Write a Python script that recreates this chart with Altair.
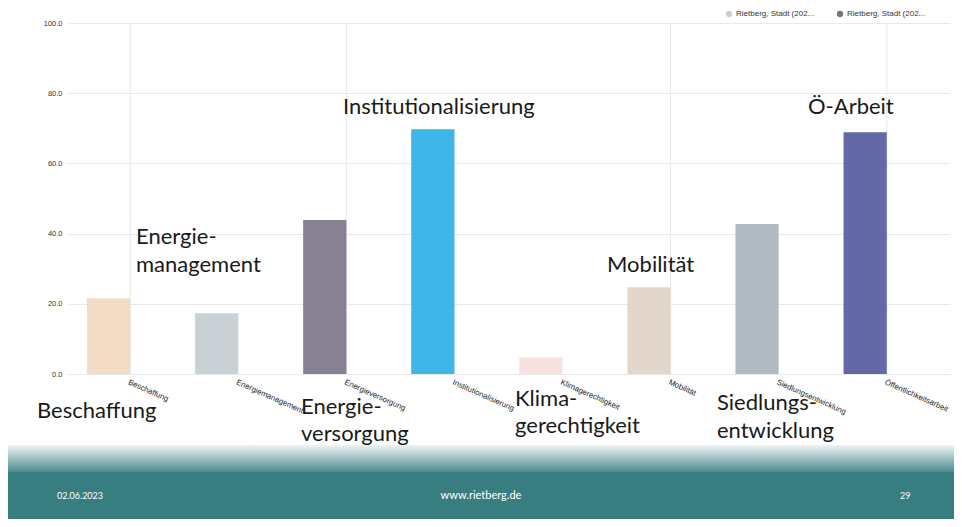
import altair as alt
import pandas as pd

# ---- data ----
categories = ["Beschaffung", "Energiemanagement", "Energieversorgung",
              "Institutionalisierung", "Klimagerechtigkeit", "Mobilität",
              "Siedlungsentwicklung", "Öffentlichkeitsarbeit"]
values = [21.6, 17.3, 43.9, 69.7, 4.8, 24.7, 42.7, 68.9]
bar_colors = ["#f3dcc6", "#c9d1d5", "#878193", "#3fb5e8",
              "#f7e2df", "#e3d6cb", "#b0bbc4", "#6468a7"]
series = ["Rietberg, Stadt (2022)", "Rietberg, Stadt (2023)"]
legend_labels = ["Rietberg, Stadt (202...", "Rietberg, Stadt (202..."]
legend_colors = ["#cfcfcf", "#777777"]
y_ticks = [0, 20, 40, 60, 80, 100]
grid_categories = ["Beschaffung", "Energieversorgung", "Mobilität", "Öffentlichkeitsarbeit"]
footer_texts = ["02.06.2023", "www.rietberg.de", "29"]

W, H = 883, 351
TEAL = "#387e80"
FONT = "Lato"

df = pd.DataFrame({"Kategorie": categories, "Reihe": series[0], "Wert": values})
one = pd.DataFrame({"a": [0]})

x_axis = alt.Axis(title=None, labelAngle=24, labelAlign="left", labelBaseline="top",
                  labelFontSize=7.8, labelColor="#222222", labelPadding=4,
                  labelFont="Liberation Sans", ticks=False, domain=False, grid=False,
                  labelLimit=200)
x_scale = alt.Scale(domain=categories, paddingInner=0.2, paddingOuter=0.185)

y_enc = alt.Y(
    "Wert:Q", scale=alt.Scale(domain=[0, 100], nice=False),
    axis=alt.Axis(title=None, values=y_ticks, format=".1f", labelFontSize=7.5,
                  labelColor="#333333", labelFont="Liberation Sans", labelPadding=5,
                  ticks=False, domain=False, grid=True, gridColor="#e8e8e8", gridWidth=1),
)

vgrid = alt.Chart(pd.DataFrame({"Kategorie": grid_categories})).mark_rule(
    color="#e8e8e8", strokeWidth=1
).encode(
    x=alt.X("Kategorie:N", sort=categories, scale=x_scale, axis=x_axis),
    y=alt.datum(100), y2=alt.datum(0),
)

bars = alt.Chart(df).mark_bar().encode(
    x=alt.X("Kategorie:N", sort=categories, scale=x_scale, axis=x_axis),
    xOffset=alt.XOffset("Reihe:N", scale=alt.Scale(domain=series, paddingInner=0, paddingOuter=0)),
    y=y_enc,
    color=alt.Color("Kategorie:N", scale=alt.Scale(domain=categories, range=bar_colors), legend=None),
)

layers = [vgrid, bars]

# legend (manual)
leg_pos = [(662, 669), (773, 780)]
for (cx, tx), lab, col in zip(leg_pos, legend_labels, legend_colors):
    layers.append(alt.Chart(one).mark_point(filled=True, size=40, color=col, opacity=1).encode(
        x=alt.value(cx), y=alt.value(-9)))
    layers.append(alt.Chart(one).mark_text(align="left", baseline="middle", fontSize=8,
                                           font="Liberation Sans", color="#333333").encode(
        x=alt.value(tx), y=alt.value(-9), text=alt.value(lab)))

# annotations (text, x, baseline y) in plot pixel coordinates
annotations = [
    ("Institutionalisierung", 276, 91),
    ("Ö-Arbeit", 741, 91),
    ("Energie-", 69, 221), ("management", 69, 249),
    ("Mobilität", 540, 249),
    ("Beschaffung", -30, 395),
    ("Energie-", 234, 391), ("versorgung", 234, 418),
    ("Klima-", 448, 383), ("gerechtigkeit", 448, 410),
    ("Siedlungs-", 650, 387), ("entwicklung", 650, 415),
]
for txt, ax, ay in annotations:
    layers.append(alt.Chart(one).mark_text(align="left", baseline="alphabetic", fontSize=22,
                                           font=FONT, color="#1a1a1a").encode(
        x=alt.value(ax), y=alt.value(ay), text=alt.value(txt)))

# footer band
grad = alt.Gradient(gradient="linear",
                    stops=[alt.GradientStop(offset=0, color="#eef5f5"),
                           alt.GradientStop(offset=1, color="#4d8c8e")],
                    x1=0, x2=0, y1=0, y2=1)
layers.append(alt.Chart(one).mark_rect(color=grad).encode(
    x=alt.value(-64), x2=alt.value(900), y=alt.value(422), y2=alt.value(449)))
layers.append(alt.Chart(one).mark_rect(color=TEAL).encode(
    x=alt.value(-64), x2=alt.value(900), y=alt.value(449), y2=alt.value(500)))
footer_pos = [(-10, "left", 9), (414, "center", 11), (833, "left", 9)]
for txt, (fx, al, fs) in zip(footer_texts, footer_pos):
    layers.append(alt.Chart(one).mark_text(align=al, baseline="middle", fontSize=fs,
                                           font=FONT, color="#ffffff").encode(
        x=alt.value(fx), y=alt.value(473), text=alt.value(txt)))

chart = alt.layer(*layers).properties(
    width=W, height=H,
    autosize=alt.AutoSizeParams(type="none"),
    padding={"left": 59, "top": 15, "right": 4, "bottom": 145},
    background="white",
).configure_view(stroke=None)

chart.save("out.html", embed_options={"renderer": "svg", "actions": False})
